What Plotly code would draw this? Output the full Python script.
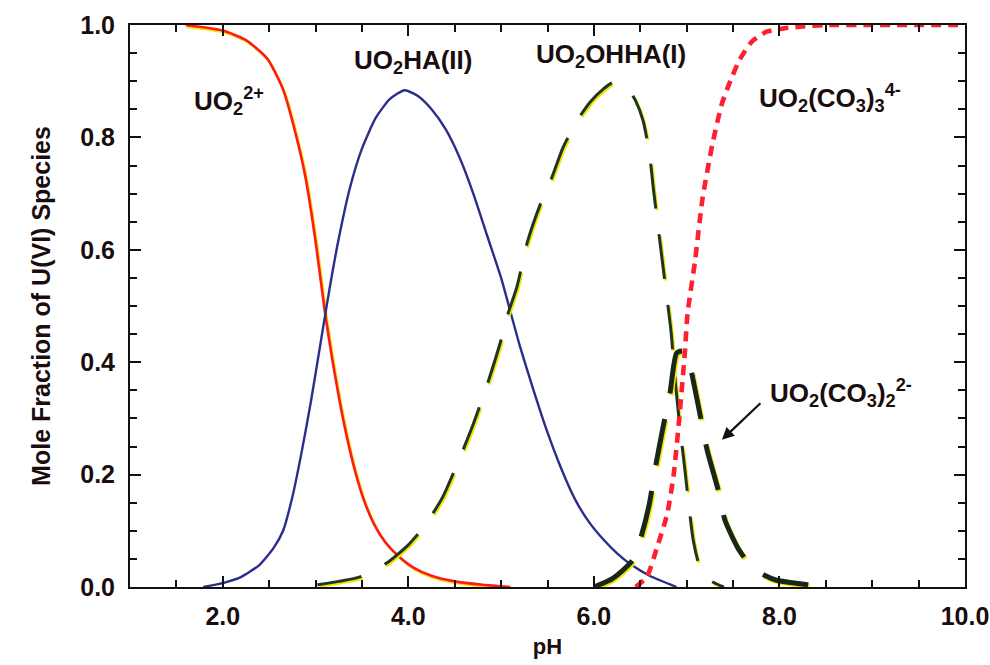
import plotly.graph_objects as go

# --- speciation data (mole fraction vs pH) ---
ph_uo2 = [1.6, 2.0, 2.25, 2.48, 2.65, 2.78, 2.89, 3.0, 3.1, 3.18, 3.26, 3.34, 3.42, 3.52, 3.63, 3.75, 3.88, 4.05, 4.25, 4.5, 4.8, 5.1]
frac_uo2 = [1.0, 0.99, 0.973, 0.94, 0.885, 0.81, 0.73, 0.615, 0.49, 0.405, 0.33, 0.265, 0.21, 0.155, 0.112, 0.08, 0.057, 0.035, 0.02, 0.01, 0.004, 0.0]

ph_uo2ha = [1.79, 2.0, 2.2, 2.4, 2.55, 2.65, 2.75, 2.85, 2.95, 3.05, 3.15, 3.25, 3.37, 3.5, 3.65, 3.8, 3.96, 4.1, 4.25, 4.4, 4.55, 4.7, 4.85, 5.0, 5.1, 5.2, 5.35, 5.5, 5.65, 5.8, 5.95, 6.1, 6.25, 6.4, 6.6, 6.89]
frac_uo2ha = [0.0, 0.007, 0.018, 0.04, 0.07, 0.1, 0.16, 0.24, 0.33, 0.43, 0.53, 0.62, 0.71, 0.78, 0.835, 0.868, 0.884, 0.874, 0.85, 0.815, 0.765, 0.7, 0.625, 0.55, 0.49, 0.43, 0.35, 0.275, 0.21, 0.155, 0.115, 0.085, 0.06, 0.04, 0.02, 0.0]

ph_uo2ohha = [3.02, 3.25, 3.48, 3.77, 4.0, 4.18, 4.37, 4.58, 4.7, 4.85, 5.0, 5.07, 5.17, 5.28, 5.42, 5.55, 5.67, 5.82, 5.96, 6.1, 6.2, 6.36, 6.45, 6.53, 6.6, 6.64, 6.7, 6.76, 6.83, 6.88, 6.93, 6.98, 7.02, 7.07, 7.14, 7.25, 7.4]
frac_uo2ohha = [0.004, 0.01, 0.018, 0.043, 0.075, 0.11, 0.16, 0.24, 0.29, 0.36, 0.44, 0.484, 0.534, 0.612, 0.68, 0.73, 0.783, 0.83, 0.863, 0.886, 0.897, 0.888, 0.865, 0.83, 0.77, 0.71, 0.63, 0.55, 0.457, 0.36, 0.28, 0.21, 0.15, 0.084, 0.036, 0.012, 0.0]

ph_co3_2 = [6.0, 6.2, 6.42, 6.52, 6.6, 6.66, 6.74, 6.82, 6.89, 6.95, 7.0, 7.07, 7.17, 7.22, 7.36, 7.41, 7.55, 7.7, 7.85, 7.97, 8.3, 8.4]
frac_co3_2 = [0.0, 0.015, 0.048, 0.096, 0.15, 0.21, 0.28, 0.345, 0.416, 0.42, 0.418, 0.368, 0.285, 0.244, 0.16, 0.12, 0.07, 0.036, 0.02, 0.012, 0.004, 0.0]

ph_co3_3 = [6.45, 6.57, 6.68, 6.79, 6.86, 6.92, 6.98, 7.01, 7.09, 7.17, 7.28, 7.38, 7.47, 7.57, 7.7, 7.86, 8.05, 8.22, 8.5, 9.0, 10.0]
frac_co3_3 = [0.0, 0.018, 0.07, 0.13, 0.2, 0.3, 0.416, 0.487, 0.58, 0.69, 0.79, 0.86, 0.9, 0.938, 0.97, 0.988, 0.994, 0.997, 1.0, 1.0, 1.0]

# --- species labels ---
label_text = [
    "UO<sub>2</sub><sup>2+</sup>",
    "UO<sub>2</sub>HA(II)",
    "UO<sub>2</sub>OHHA(I)",
    "UO<sub>2</sub>(CO<sub>3</sub>)<sub>3</sub><sup>4-</sup>",
    "UO<sub>2</sub>(CO<sub>3</sub>)<sub>2</sub><sup>2-</sup>",
]
label_ph = [2.07, 4.05, 6.18, 8.54, 8.66]
label_frac = [0.865, 0.935, 0.945, 0.87, 0.345]

x_ticks = [2, 4, 6, 8, 10]
x_ticklabels = ["2.0", "4.0", "6.0", "8.0", "10.0"]
y_ticks = [0.0, 0.2, 0.4, 0.6, 0.8, 1.0]
y_ticklabels = ["0.0", "0.2", "0.4", "0.6", "0.8", "1.0"]

FONT = "Liberation Sans, Arial, sans-serif"
TEXT_COL = "#1a0d0d"
AXIS_COL = "#111111"
FRINGE = "#f2e600"

fig = go.Figure()


def add_curve(xs, ys, color, width, dash="solid", fringe=False):
    """Draw one species curve; optionally with a thin yellow offset edge."""
    if fringe:
        fx = [x + 0.014 for x in xs]
        fy = [y - 0.003 for y in ys]
        fig.add_trace(go.Scatter(
            x=fx, y=fy, mode="lines",
            line=dict(color=FRINGE, width=width, dash=dash, shape="spline", smoothing=0.6),
            hoverinfo="skip", showlegend=False))
    fig.add_trace(go.Scatter(
        x=xs, y=ys, mode="lines",
        line=dict(color=color, width=width, dash=dash, shape="spline", smoothing=0.6),
        showlegend=False))


add_curve(ph_uo2, frac_uo2, "#ff1a1a", 2.6, fringe=True)
add_curve(ph_uo2ha, frac_uo2ha, "#2b2d8c", 2.4)
add_curve(ph_uo2ohha, frac_uo2ohha, "#1f3524", 3.0, dash="45px,26px", fringe=True)
add_curve(ph_co3_2, frac_co3_2, "#17281a", 5.0, dash="47px,26px", fringe=True)
add_curve(ph_co3_3, frac_co3_3, "#ff1f2e", 4.6, dash="10px,7px")

for txt, xv, yv in zip(label_text, label_ph, label_frac):
    fig.add_annotation(x=xv, y=yv, xref="x", yref="y", text=f"<b>{txt}</b>", showarrow=False,
                       xanchor="center", yanchor="middle",
                       font=dict(family=FONT, size=26, color=TEXT_COL))

# arrow pointing at the UO2(CO3)2 2- curve
fig.add_annotation(x=7.38, y=0.262, xref="x", yref="y", text="", showarrow=True,
                   ax=40, ay=-38, arrowhead=2, arrowsize=1.1, arrowwidth=2.2,
                   arrowcolor=AXIS_COL)

# frame with inward major and minor ticks on all four sides
axis_common = dict(
    showline=True, linecolor=AXIS_COL, linewidth=2, mirror="allticks",
    ticks="inside", tickcolor=AXIS_COL, tickwidth=2, ticklen=11,
    showgrid=False, zeroline=False, automargin=False,
    tickfont=dict(family=FONT, size=25, color=TEXT_COL),
)

fig.update_xaxes(
    range=[1, 10], tickmode="array", tickvals=x_ticks,
    ticktext=[f"<b>{t}</b>" for t in x_ticklabels],
    minor=dict(dtick=0.5, tick0=0, ticks="inside", ticklen=7, tickwidth=2,
               tickcolor=AXIS_COL, showgrid=False),
    title=dict(text="<b>pH</b>", font=dict(family=FONT, size=22, color=TEXT_COL), standoff=10),
    ticklabelstandoff=6,
    **axis_common,
)
fig.update_yaxes(
    range=[0, 1], tickmode="array", tickvals=y_ticks,
    ticktext=[f"<b>{t}</b>" for t in y_ticklabels],
    minor=dict(dtick=0.05, tick0=0, ticks="inside", ticklen=7, tickwidth=2,
               tickcolor=AXIS_COL, showgrid=False),
    title=dict(text="<b>Mole Fraction of U(VI) Species</b>", font=dict(family=FONT, size=25, color=TEXT_COL), standoff=22),
    ticklabelstandoff=8,
    **axis_common,
)

fig.update_layout(
    width=990, height=665,
    margin=dict(l=130, r=25, t=25, b=78),
    paper_bgcolor="white", plot_bgcolor="white",
    font=dict(family=FONT, color=TEXT_COL),
)

fig.write_html("out.html")
